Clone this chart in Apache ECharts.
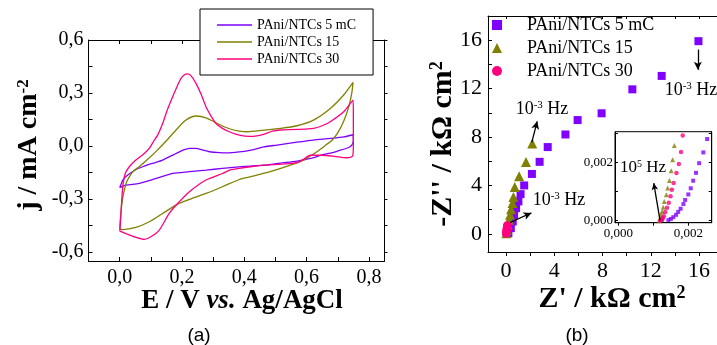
<!DOCTYPE html>
<html>
<head>
<meta charset="utf-8">
<script src="https://cdn.jsdelivr.net/npm/echarts@6/dist/echarts.min.js"></script>
<style>html,body{margin:0;padding:0;background:#fff;}#c{width:717px;height:345px;}</style>
</head>
<body>
<div id="c"></div>
<script>
// ---------- data ----------
const seriesLabels = ['PAni/NTCs 5 mC', 'PAni/NTCs 15', 'PAni/NTCs 30'];
const colors = ['#8000ff', '#808000', '#ff0080'];

// CV loops [E (V), j (mA cm-2)]
const cv5 = [[0.0,-0.235],[0.005,-0.215],[0.01,-0.192],[0.026,-0.164],[0.05,-0.135],[0.074,-0.117],[0.105,-0.098],[0.138,-0.079],[0.16,-0.06],[0.181,-0.042],[0.205,-0.022],[0.224,-0.013],[0.245,-0.013],[0.265,-0.022],[0.288,-0.032],[0.32,-0.037],[0.352,-0.038],[0.40,-0.03],[0.43,-0.02],[0.462,-0.005],[0.505,0.006],[0.569,0.022],[0.622,0.034],[0.676,0.043],[0.72,0.052],[0.749,0.064],
  [0.75,0.03],[0.745,0.005],[0.735,-0.008],[0.70,-0.028],[0.676,-0.04],[0.65,-0.05],[0.612,-0.07],[0.569,-0.085],[0.516,-0.096],[0.462,-0.108],[0.40,-0.115],[0.33,-0.126],[0.277,-0.136],[0.224,-0.145],[0.17,-0.155],[0.117,-0.183],[0.063,-0.211],[0.02,-0.221],[0.0,-0.235]];
const cv15 = [[0.0,-0.47],[0.002,-0.42],[0.006,-0.343],[0.01,-0.29],[0.015,-0.249],[0.022,-0.205],[0.031,-0.174],[0.045,-0.14],[0.063,-0.117],[0.09,-0.075],[0.117,-0.03],[0.15,0.03],[0.181,0.091],[0.213,0.147],[0.245,0.17],[0.277,0.16],[0.32,0.122],[0.352,0.098],[0.384,0.085],[0.409,0.081],[0.462,0.09],[0.516,0.1],[0.569,0.115],[0.622,0.147],[0.676,0.213],[0.719,0.289],[0.749,0.36],
  [0.745,0.3],[0.735,0.22],[0.719,0.14],[0.70,0.075],[0.68,0.03],[0.665,0.01],[0.633,-0.032],[0.59,-0.079],[0.548,-0.108],[0.483,-0.145],[0.419,-0.174],[0.384,-0.189],[0.33,-0.23],[0.277,-0.268],[0.224,-0.302],[0.186,-0.328],[0.138,-0.381],[0.095,-0.428],[0.052,-0.46],[0.01,-0.472],[0.0,-0.47]];
const cv30 = [[0.0,-0.481],[0.001,-0.475],[0.004,-0.381],[0.01,-0.23],[0.018,-0.155],[0.031,-0.117],[0.052,-0.079],[0.079,-0.042],[0.095,-0.013],[0.11,0.03],[0.122,0.062],[0.138,0.128],[0.152,0.2],[0.17,0.279],[0.184,0.336],[0.197,0.383],[0.208,0.403],[0.217,0.408],[0.228,0.4],[0.245,0.355],[0.262,0.29],[0.277,0.223],[0.295,0.165],[0.309,0.128],[0.33,0.1],[0.352,0.081],[0.384,0.062],[0.419,0.055],[0.44,0.058],[0.462,0.066],[0.49,0.085],[0.516,0.091],[0.569,0.094],[0.622,0.1],[0.65,0.115],[0.676,0.138],[0.719,0.194],[0.749,0.26],
  [0.75,0.2],[0.75,0.0],[0.748,-0.055],[0.74,-0.064],[0.729,-0.066],[0.69,-0.058],[0.65,-0.052],[0.612,-0.052],[0.59,-0.075],[0.569,-0.094],[0.52,-0.102],[0.462,-0.108],[0.42,-0.117],[0.384,-0.126],[0.355,-0.135],[0.33,-0.155],[0.277,-0.192],[0.224,-0.258],[0.186,-0.325],[0.159,-0.381],[0.127,-0.475],[0.1,-0.513],[0.079,-0.528],[0.05,-0.515],[0.02,-0.495],[0.0,-0.481]];

// Nyquist data [Z' , -Z''] (kOhm cm2)
const eis5 = [[0.19,0.05],[0.39,0.47],[0.55,1.02],[0.66,1.57],[0.83,2.12],[1.02,2.68],[1.2,3.28],[1.5,4.0],[2.14,4.95],[2.78,5.95],[3.45,7.17],[4.92,8.21],[5.93,9.4],[7.92,9.96],[10.47,11.94],[12.9,13.05],[15.95,15.92]];
const eis15 = [[0.02,0.05],[0.06,0.33],[0.14,0.75],[0.25,1.16],[0.33,1.57],[0.41,2.04],[0.53,2.54],[0.61,3.05],[0.72,3.87],[1.08,4.76],[1.65,5.93],[2.17,7.47]];
const eis30 = [[0.0,0.0],[0.01,0.08],[0.02,0.16],[0.03,0.24],[0.04,0.32],[0.05,0.4],[0.06,0.48],[0.07,0.56],[0.08,0.64],[0.1,0.72]];

// inset (high-frequency region)
const in5 = [[0.00143,0.00002],[0.0015,0.00006],[0.00157,0.00012],[0.00165,0.0002],[0.00171,0.0003],[0.00178,0.00041],[0.00186,0.00057],[0.00191,0.00071],[0.002,0.0009],[0.00207,0.00111],[0.00214,0.00137],[0.00222,0.00164],[0.00231,0.00197],[0.00243,0.00234],[0.00254,0.0028]];
const in15 = [[0.00116,0.0],[0.00119,0.00008],[0.00122,0.0002],[0.00125,0.00031],[0.00128,0.00046],[0.00131,0.00066],[0.00137,0.00089],[0.00141,0.00112],[0.00146,0.00138],[0.00151,0.00171],[0.00155,0.00209],[0.0016,0.00258]];
const in30 = [[0.0012,0.0],[0.00123,0.00002],[0.00125,0.00003],[0.00127,0.00009],[0.0013,0.00015],[0.00134,0.0003],[0.00139,0.00044],[0.00144,0.00061],[0.00149,0.00084],[0.00153,0.00106],[0.00158,0.00129],[0.00166,0.00163],[0.00173,0.00194],[0.00179,0.00235],[0.00184,0.00292]];

// tick values
const cvXLabels = [0, 0.2, 0.4, 0.6, 0.8];
const cvXTicks = [0, 0.1, 0.2, 0.3, 0.4, 0.5, 0.6, 0.7, 0.8];
const cvYLabels = [-0.6, -0.3, 0, 0.3, 0.6];
const cvYTicks = [-0.6, -0.45, -0.3, -0.15, 0, 0.15, 0.3, 0.45, 0.6];
const eisLabels = [0, 4, 8, 12, 16];
const eisTicks = [0, 2, 4, 6, 8, 10, 12, 14, 16];
const inLabels = [0, 0.002];
const inXTicks = [0, 0.001, 0.002];
const inYTicks = [0, 0.001, 0.002, 0.003];

// ---------- chart ----------
const SERIF = 'Liberation Serif';
const chart = echarts.init(document.getElementById('c'), null, {renderer: 'canvas'});
const fmt1 = v => v.toFixed(1).replace('.', ',');
const fmt3 = v => v.toFixed(3).replace('.', ',');
const lineAx = {show: true, onZero: false, lineStyle: {color: '#000', width: 1}};

function ax(o) {
  return Object.assign({
    type: 'value', splitLine: {show: false}, axisLine: lineAx, scale: false
  }, o);
}

const option = {
  animation: false,
  backgroundColor: '#fff',
  grid: [
    {left: 88.5, top: 40, width: 296, height: 221, outerBoundsMode: 'none'},
    {left: 488, top: 16, width: 240, height: 236, outerBoundsMode: 'none'},
    {left: 615, top: 131.7, width: 96.7, height: 91, outerBoundsMode: 'none', show: true, backgroundColor: '#fff', borderColor: '#000', borderWidth: 1, z: 5}
  ],
  xAxis: [
    ax({gridIndex: 0, position: 'bottom', min: -0.1, max: 0.85,
      axisTick: {inside: true, length: 4, customValues: cvXTicks, lineStyle: {color: '#000'}},
      axisLabel: {customValues: cvXLabels, formatter: fmt1, fontFamily: SERIF, fontSize: 20, color: '#000', margin: 7}}),
    ax({gridIndex: 0, position: 'top', min: -0.1, max: 0.85,
      axisTick: {inside: true, length: 4, customValues: cvXTicks, lineStyle: {color: '#000'}},
      axisLabel: {show: false}}),
    ax({gridIndex: 1, position: 'bottom', min: -1.5, max: 18.4,
      axisTick: {inside: false, length: 4, customValues: eisTicks, lineStyle: {color: '#000'}},
      axisLabel: {customValues: eisLabels, fontFamily: SERIF, fontSize: 22, color: '#000', margin: 8}}),
    ax({gridIndex: 1, position: 'top', min: -1.5, max: 18.4,
      axisTick: {inside: true, length: 3, customValues: eisTicks, lineStyle: {color: '#000'}},
      axisLabel: {show: false}}),
    ax({gridIndex: 2, position: 'bottom', min: -0.0001, max: 0.00267, z: 6,
      axisTick: {inside: false, length: 3, customValues: inXTicks, lineStyle: {color: '#000'}},
      axisLabel: {customValues: inLabels, formatter: fmt3, fontFamily: SERIF, fontSize: 13, color: '#000', margin: 4}})
  ],
  yAxis: [
    ax({gridIndex: 0, position: 'left', min: -0.65, max: 0.6,
      axisTick: {inside: true, length: 4, customValues: cvYTicks, lineStyle: {color: '#000'}},
      axisLabel: {customValues: cvYLabels, formatter: fmt1, fontFamily: SERIF, fontSize: 20, color: '#000', margin: 5}}),
    ax({gridIndex: 0, position: 'right', min: -0.65, max: 0.6,
      axisTick: {inside: false, length: 3, customValues: cvYTicks, lineStyle: {color: '#000'}},
      axisLabel: {show: false}}),
    ax({gridIndex: 1, position: 'left', min: -1.5, max: 18,
      axisTick: {inside: true, length: 4, customValues: eisTicks, lineStyle: {color: '#000'}},
      axisLabel: {customValues: eisLabels, fontFamily: SERIF, fontSize: 22, color: '#000', margin: 6}}),
    ax({gridIndex: 2, position: 'left', min: -0.00007, max: 0.00305, z: 6,
      axisTick: {inside: true, length: 3, customValues: inYTicks, lineStyle: {color: '#000'}},
      axisLabel: {customValues: inLabels, formatter: fmt3, fontFamily: SERIF, fontSize: 13, color: '#000', margin: 2}}),
    ax({gridIndex: 2, position: 'right', min: -0.00007, max: 0.00305, z: 6,
      axisTick: {inside: true, length: 3, customValues: inYTicks, lineStyle: {color: '#000'}},
      axisLabel: {show: false}})
  ],
  legend: [
    {data: seriesLabels.map((s, i) => ({name: 'CV ' + s, icon: 'rect', itemStyle: {color: colors[i]}})),
      formatter: n => n.replace(/^CV /, ''),
      orient: 'vertical', left: 200, top: 9, padding: [7.5, 17, 7.5, 17], itemGap: 0,
      itemWidth: 35, itemHeight: 1.3, selectedMode: false,
      backgroundColor: '#fff', borderColor: '#000', borderWidth: 1, z: 10,
      textStyle: {fontFamily: SERIF, fontSize: 14, lineHeight: 17, color: '#000'}},
    {data: seriesLabels.map(s => 'EIS ' + s), formatter: n => n.replace(/^EIS /, ''),
      orient: 'vertical', left: 492, top: 16, padding: 0, itemGap: 5,
      itemWidth: 10, itemHeight: 10, selectedMode: false,
      textStyle: {fontFamily: SERIF, fontSize: 18, lineHeight: 18, color: '#000', padding: [0, 0, 0, 20]}}
  ],
  series: []
};

const cvData = [cv5, cv15, cv30];
cvData.forEach((d, i) => option.series.push({
  type: 'line', name: 'CV ' + seriesLabels[i], xAxisIndex: 0, yAxisIndex: 0,
  data: d, symbol: 'none', smooth: 0.25, color: colors[i],
  lineStyle: {color: colors[i], width: 1.3}, silent: true, clip: false
}));

const arrowLine = {color: '#000', width: 1.3, type: 'solid'};
function arrows(pairs) {
  return {silent: true, symbol: ['none', 'arrow'], symbolSize: [6, 8], label: {show: false},
    lineStyle: arrowLine, data: pairs.map(p => [{coord: p[0]}, {coord: p[1]}])};
}

const eisData = [eis5, eis15, eis30];
const symbols = ['rect', 'triangle', 'circle'];
const mainSizes = [8, 10, 8];
const eisArrows = [
  [[[15.9, 15.23], [15.9, 13.55]]],
  [[[2.13, 7.56], [2.58, 9.3]]],
  [[[0.33, 0.94], [2.1, 1.73]]]
];
eisData.forEach((d, i) => option.series.push({
  type: 'scatter', name: 'EIS ' + seriesLabels[i], xAxisIndex: 2, yAxisIndex: 2,
  data: d, symbol: symbols[i], symbolSize: mainSizes[i], color: colors[i],
  itemStyle: {color: colors[i], opacity: 1}, silent: true,
  markLine: arrows(eisArrows[i])
}));

const inData = [in5, in15, in30];
const inSizes = [4, 5, 4.5];
inData.forEach((d, i) => option.series.push({
  type: 'scatter', name: 'Inset ' + seriesLabels[i], xAxisIndex: 4, yAxisIndex: 3,
  data: d, symbol: symbols[i], symbolSize: inSizes[i], color: colors[i], z: 7,
  itemStyle: {color: colors[i]}, silent: true,
  markLine: i === 2 ? Object.assign(arrows([[[0.00119, 0.00001], [0.00101, 0.00129]]]), {symbolSize: [5, 7], z: 8}) : undefined
}));

// ---------- text annotations ----------
function rt(text, x, y, rich, opts) {
  return Object.assign({type: 'text', x: x, y: y, z: 100, silent: true,
    style: {text: text, align: 'center', verticalAlign: 'middle', fill: '#000', rich: rich}}, opts || {});
}
const titleRich = (sz, supSz) => ({
  b: {fontFamily: SERIF, fontWeight: 'bold', fontSize: sz, lineHeight: sz, fill: '#000'},
  i: {fontFamily: SERIF, fontWeight: 'bold', fontStyle: 'italic', fontSize: sz, lineHeight: sz, fill: '#000'},
  s: {fontFamily: SERIF, fontWeight: 'bold', fontSize: supSz, lineHeight: supSz, fill: '#000', verticalAlign: 'top'}
});
const hzRich = {
  n: {fontFamily: SERIF, fontSize: 18, lineHeight: 18, fill: '#000'},
  s: {fontFamily: SERIF, fontSize: 11, lineHeight: 11, fill: '#000', verticalAlign: 'top'}
};
const inRich = {
  n: {fontFamily: SERIF, fontSize: 17, lineHeight: 17, fill: '#000'},
  s: {fontFamily: SERIF, fontSize: 10, lineHeight: 10, fill: '#000', verticalAlign: 'top'}
};
option.graphic = [
  rt('{b|E / V }{i|vs.}{b| Ag/AgCl}', 242, 301, titleRich(27, 16)),
  rt('{b|j / mA cm}{s|-2}', 29, 145, titleRich(28, 17), {rotation: Math.PI / 2}),
  rt("{b|-Z'' / kΩ cm}{s|2}", 443, 144, titleRich(30, 18), {rotation: Math.PI / 2}),
  rt("{b|Z' / kΩ cm}{s|2}", 612, 299, titleRich(30, 18)),
  rt('{n|10}{s|-3}{n| Hz}', 542, 109, hzRich),
  rt('{n|10}{s|-3}{n| Hz}', 559, 200, hzRich),
  rt('{n|10}{s|-3}{n| Hz}', 691, 90, hzRich),
  rt('{n|10}{s|5}{n| Hz}', 643, 168, inRich),
  {type: 'text', x: 199, y: 336, z: 100, silent: true, style: {text: '(a)', align: 'center', verticalAlign: 'middle', fill: '#000', font: '19px "Liberation Sans"'}},
  {type: 'text', x: 577, y: 336, z: 100, silent: true, style: {text: '(b)', align: 'center', verticalAlign: 'middle', fill: '#000', font: '19px "Liberation Sans"'}}
];

chart.setOption(option);
</script>
</body>
</html>
